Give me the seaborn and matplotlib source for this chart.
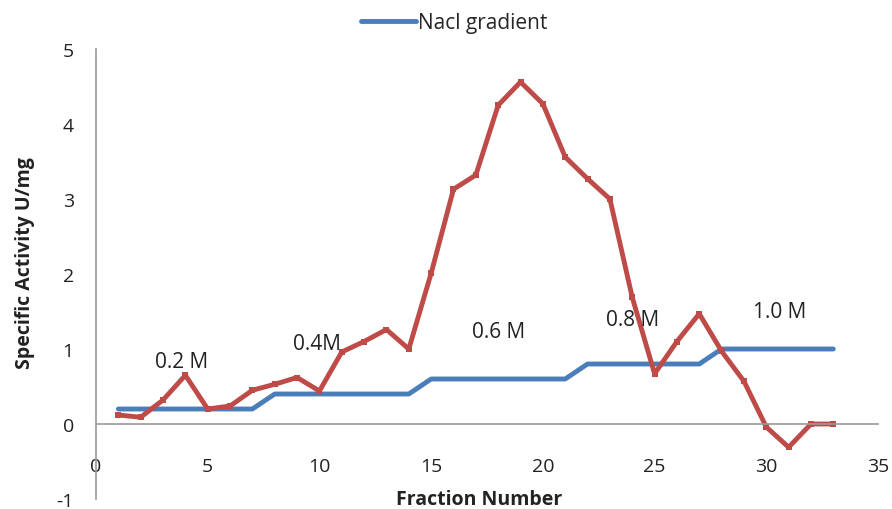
import matplotlib
matplotlib.use("Agg")
import matplotlib.pyplot as plt
import seaborn as sns
import pandas as pd

fractions = list(range(1, 34))
specific_activity = [0.12, 0.09, 0.32, 0.65, 0.20, 0.24, 0.45, 0.53, 0.62, 0.44,
                     0.96, 1.10, 1.26, 1.00, 2.01, 3.13, 3.32, 4.25, 4.56, 4.27,
                     3.56, 3.27, 3.00, 1.69, 0.67, 1.10, 1.47, 0.97, 0.57, -0.04,
                     -0.31, 0.00, 0.00]
nacl_gradient = [0.2]*7 + [0.4]*7 + [0.6]*7 + [0.8]*6 + [1.0]*6
annot_text = ["0.2 M", "0.4M", "0.6 M", "0.8 M", "1.0 M"]
annot_x = [3.85, 9.9, 18.0, 24.0, 30.6]
annot_y = [0.84, 1.08, 1.23, 1.39, 1.5]

df = pd.DataFrame({"Fraction": fractions, "Activity": specific_activity, "NaCl": nacl_gradient})

sns.set_style("white")
plt.rcParams['font.family'] = ['Open Sans', 'DejaVu Sans']
plt.rcParams['axes.unicode_minus'] = False

FS = 14
fig = plt.figure(figsize=(8.92, 5.10), dpi=100)
ax = fig.add_axes([96/892, 10/510, (878-96)/892, 450/510])

sns.lineplot(data=df, x="Fraction", y="NaCl", ax=ax, color="#4a7ebb", linewidth=3.5,
             label="Nacl gradient", solid_capstyle="round")
sns.lineplot(data=df, x="Fraction", y="Activity", ax=ax, color="#be4b48", linewidth=3.5,
             marker="s", markersize=4, markeredgewidth=0, legend=False)

for t, x, y in zip(annot_text, annot_x, annot_y):
    ax.text(x, y, t, fontsize=15, ha="center", va="center", color="#222222")

ax.set_xlim(0, 35)
ax.set_ylim(-1, 5)
ax.set_xticks([0, 5, 10, 15, 20, 25, 30, 35])
ax.set_yticks([-1, 0, 1, 2, 3, 4, 5])
ax.tick_params(axis="both", labelsize=FS, length=0, colors="#222222")
ax.tick_params(axis="y", pad=16)
ax.tick_params(axis="x", pad=24)
ax.set_xlabel("Fraction Number", fontsize=FS, fontweight="bold", color="#222222")
ax.set_ylabel("Specific Activity U/mg", fontsize=FS, fontweight="bold", color="#222222")
ax.xaxis.set_label_coords(0.49, -0.022)
ax.xaxis.label.set_va("bottom")
ax.yaxis.set_label_coords(-0.078, 0.527)

ax.spines["bottom"].set_position(("data", 0))
ax.spines["top"].set_visible(False)
ax.spines["right"].set_visible(False)
for s in ["left", "bottom"]:
    ax.spines[s].set_color("#999999")
    ax.spines[s].set_linewidth(1.2)

leg = ax.legend(loc="upper center", bbox_to_anchor=(0.458, 1.1), frameon=False, fontsize=15,
                handlelength=2.6, handletextpad=0.1, borderaxespad=0)

fig.savefig("out.png", dpi=100)
